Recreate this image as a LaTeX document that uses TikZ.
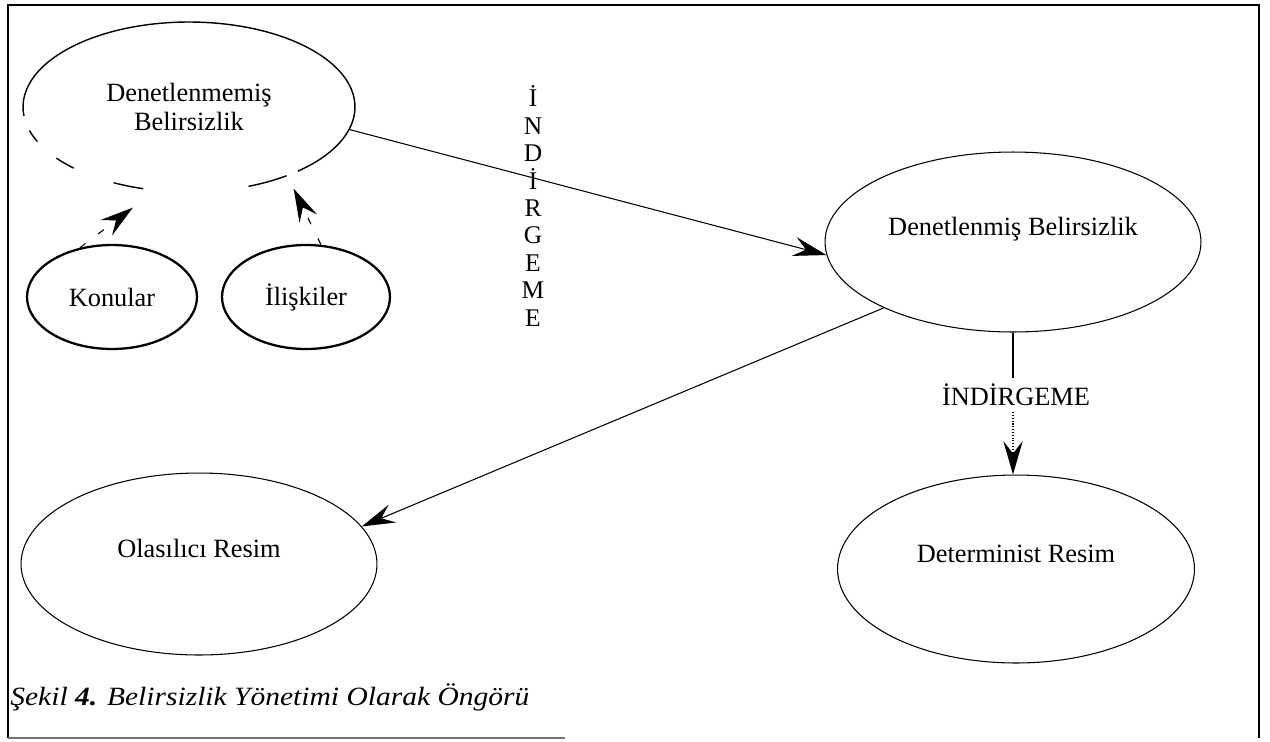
\documentclass[tikz,border=0pt]{standalone}
\usepackage{fontspec}
\setmainfont{Liberation Serif}
\newfontfamily\captionfont[FakeStretch=1.12]{Liberation Serif}
\usetikzlibrary{arrows.meta,shapes.geometric}

\tikzset{
  oval/.style={ellipse, draw, line width=0.6pt, inner sep=0pt, font=\fontsize{15}{17}\selectfont},
  subject/.style={oval, line width=1.3pt},
  lifted/.style={text height=0.35cm, text depth=0.6cm},
  flow/.style={-{Stealth[length=19pt,width=11pt,inset=7pt]}, line width=0.6pt},
  gapdash/.style={dash pattern=on 4pt off 9pt},
}

\begin{document}
\begin{tikzpicture}[x=0.02cm, y=-0.02cm]
  \useasboundingbox (0,0) rectangle (1270,741);
  % frame
  \draw[line width=1.1pt] (8,738) -- (8,5) -- (1259,5) -- (1259,738);
  \draw[line width=1pt, black!55] (8,738) -- (565,738);

  % ellipses
  \node[oval, draw=none, minimum width=6.64cm, minimum height=3.4cm, align=center] (belirsiz) at (189,107) {Denetlenmemiş\\Belirsizlik};
  \node[subject, minimum width=3.4cm, minimum height=2.08cm] (konular) at (112,297) {Konular};
  \node[subject, minimum width=3.36cm, minimum height=2.08cm] (iliski) at (306,297) {İlişkiler};
  \node[oval, lifted, minimum width=7.52cm, minimum height=3.6cm] (denetli) at (1013,242) {Denetlenmiş Belirsizlik};
  \node[oval, lifted, minimum width=7.12cm, minimum height=3.64cm] (olasi) at (199,564) {Olasılıcı Resim};
  \node[oval, lifted, minimum width=7.14cm, minimum height=3.76cm] (determ) at (1016,569) {Determinist Resim};

  % open outline of the uncontrolled ellipse
  \draw[line width=0.8pt] ([shift={(-49:3.32cm and 1.7cm)}]belirsiz.center)
    arc[start angle=-49, end angle=186, x radius=3.32cm, y radius=1.7cm];
  \foreach \a/\b in {196/204,217/226,243/254,291/306}
    \draw[line width=0.8pt] ([shift={(\a:3.32cm and 1.7cm)}]belirsiz.center)
      arc[start angle=\a, end angle=\b, x radius=3.32cm, y radius=1.7cm];

  % labels
  \node[font=\fontsize{14.5}{15.6}\selectfont, align=center] (indirgeA) at (533,206) {İ\\N\\D\\İ\\R\\G\\E\\M\\E};
  \node[font=\fontsize{15}{17}\selectfont] (indirgeB) at (1016,395) {İNDİRGEME};
  \node[anchor=west, inner sep=0pt, font=\captionfont\itshape\fontsize{15}{17}\selectfont] (sekil) at (10,697) {Şekil \textbf{4.} Belirsizlik Yönetimi Olarak Öngörü};

  % connectors
  \draw[flow] (belirsiz.-8) -- (denetli.184);
  \draw[flow] (denetli.207) -- (olasi.13);
  \draw[line width=0.6pt] (denetli.south) -- (denetli.south |- indirgeB.north);
  \draw[flow, densely dotted] (denetli.south |- indirgeB.south) -- (denetli.south |- determ.north);
  \draw[flow, gapdash, shorten >=0.56cm] (konular.123) -- (belirsiz.248);
  \draw[flow, gapdash, shorten >=0.28cm] (iliski.74) -- (belirsiz.-35);
\end{tikzpicture}
\end{document}
